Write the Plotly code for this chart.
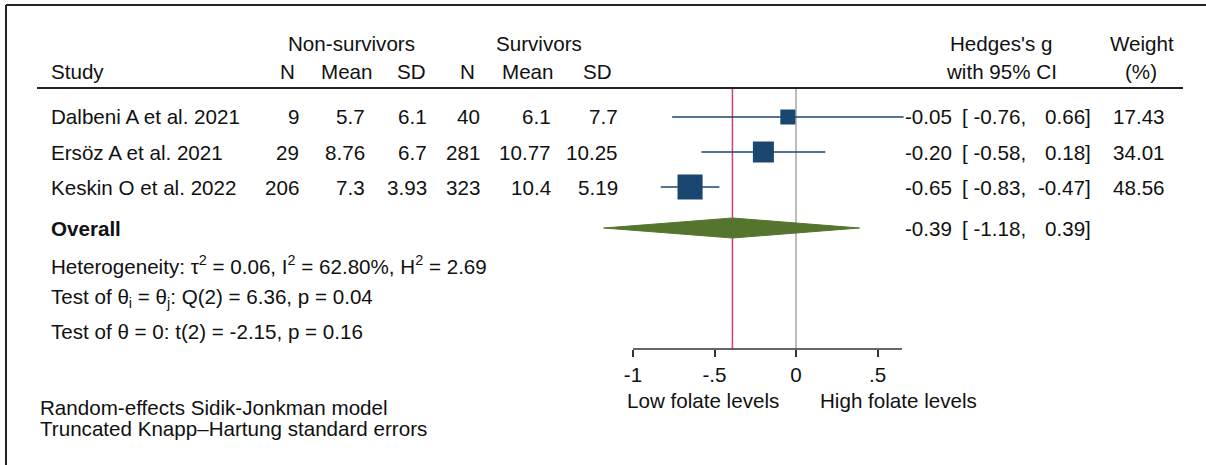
import math
import plotly.graph_objects as go

# ---------------- data ----------------
studies = ["Dalbeni A et al. 2021", "Ersöz A et al. 2021", "Keskin O et al. 2022"]
n_non = [9, 29, 206]
mean_non = [5.7, 8.76, 7.3]
sd_non = [6.1, 6.7, 3.93]
n_surv = [40, 281, 323]
mean_surv = [6.1, 10.77, 10.4]
sd_surv = [7.7, 10.25, 5.19]
hedges_g = [-0.05, -0.20, -0.65]
ci_lo = [-0.76, -0.58, -0.83]
ci_hi = [0.66, 0.18, -0.47]
weight = [17.43, 34.01, 48.56]
overall_g = -0.39
overall_lo = -1.18
overall_hi = 0.39
tick_vals = [-1, -0.5, 0, 0.5]
tick_text = ["-1", "-.5", "0", ".5"]
het_text = "Heterogeneity: τ<sup>2</sup> = 0.06, I<sup>2</sup> = 62.80%, H<sup>2</sup> = 2.69"
test1_text = "Test of θ<sub>i</sub> = θ<sub>j</sub>: Q(2) = 6.36, p = 0.04"
test2_text = "Test of θ = 0: t(2) = -2.15, p = 0.16"
foot1 = "Random-effects Sidik-Jonkman model"
foot2 = "Truncated Knapp–Hartung standard errors"
left_label = "Low folate levels"
right_label = "High folate levels"

# ---------------- layout helpers ----------------
W, H = 1206, 465
FONT = "Liberation Sans, Arial, sans-serif"
FS = 20.6
TXT = "#111111"
NAVY = "#1A476F"
GREEN = "#55752F"
RED = "#D8406C"
GRAY = "#A6A6A6"


def px(x):
    return x / W


def py(y):
    return 1 - y / H


ROW0_PX, ROW_H = 117, 35
TOP_PX, AXIS_PX = 88, 349
y_top = (TOP_PX - ROW0_PX) / ROW_H
y_bot = (AXIS_PX - ROW0_PX) / ROW_H


def row(pxv):
    return (pxv - ROW0_PX) / ROW_H


OVERALL_Y = row(228)
rows = list(range(len(studies)))

# x axis: value v -> pixel 796 + 163 v
X0_PX, X_SCALE = 796, 163
xr = [-1.3, 0.75]
xdom = [px(X0_PX + X_SCALE * xr[0]), px(X0_PX + X_SCALE * xr[1])]

fig = go.Figure()

# CI lines
for i in rows:
    fig.add_trace(go.Scatter(x=[ci_lo[i], ci_hi[i]], y=[i, i], mode="lines",
                             line=dict(color=NAVY, width=1.6), hoverinfo="skip",
                             showlegend=False))
# squares
fig.add_trace(go.Scatter(x=hedges_g, y=rows, mode="markers",
                         marker=dict(symbol="square", color=NAVY, opacity=1,
                                     size=[3.6 * math.sqrt(w) for w in weight],
                                     line=dict(width=0)),
                         hoverinfo="skip", showlegend=False))
# diamond
dh = 10 / ROW_H
fig.add_trace(go.Scatter(x=[overall_lo, overall_g, overall_hi, overall_g, overall_lo],
                         y=[OVERALL_Y, OVERALL_Y - dh, OVERALL_Y, OVERALL_Y + dh, OVERALL_Y],
                         mode="lines", fill="toself", fillcolor=GREEN,
                         line=dict(color=GREEN, width=1), hoverinfo="skip",
                         showlegend=False))

shapes = [
    # border
    dict(type="line", xref="paper", yref="paper", x0=px(6), x1=1, y0=py(5), y1=py(5),
         line=dict(color="#222", width=2)),
    dict(type="line", xref="paper", yref="paper", x0=px(6), x1=px(6), y0=py(5), y1=0,
         line=dict(color="#222", width=2)),
    # header underline
    dict(type="line", xref="paper", yref="paper", x0=px(37), x1=px(1183), y0=py(88), y1=py(88),
         line=dict(color="#222", width=2)),
    # reference lines
    dict(type="line", xref="x", yref="paper", x0=0, x1=0, y0=py(AXIS_PX), y1=py(TOP_PX),
         line=dict(color=GRAY, width=1.5), layer="below"),
    dict(type="line", xref="x", yref="paper", x0=overall_g, x1=overall_g, y0=py(AXIS_PX), y1=py(TOP_PX),
         line=dict(color=RED, width=1.5), layer="below"),
    # axis line
    dict(type="line", xref="x", yref="paper", x0=tick_vals[0], x1=0.65, y0=py(AXIS_PX), y1=py(AXIS_PX),
         line=dict(color="#333", width=1.5)),
]

ann = []


def add(text, x, y, xanchor="left", yref="y", bold=False):
    ann.append(dict(text=("<b>%s</b>" % text) if bold else text, x=px(x), y=y,
                    xref="paper", yref=yref, xanchor=xanchor, yanchor="middle",
                    showarrow=False, font=dict(family=FONT, size=FS, color=TXT)))


# headers
add("Non-survivors", 351, py(44), "center", "paper")
add("Survivors", 539, py(44), "center", "paper")
add("Hedges's g", 1001, py(44), "center", "paper")
add("Weight", 1142, py(44), "center", "paper")
add("Study", 49, py(72), "left", "paper")
for t, xr_ in zip(["N", "Mean", "SD", "N", "Mean", "SD"], [297, 375, 428, 477, 556, 614]):
    add(t, xr_, py(72), "right", "paper")
add("with 95% CI", 1001, py(72), "center", "paper")
add("(%)", 1141, py(72), "center", "paper")

# study rows
cols = [n_non, mean_non, sd_non, n_surv, mean_surv, sd_surv]
col_right = [301, 367, 429, 482, 553, 620]
for i in rows:
    add(studies[i], 49, i)
    for c, xr_ in zip(cols, col_right):
        add(str(c[i]), xr_, i, "right")
    add("%.2f" % hedges_g[i], 954, i, "right")
    add("[ %.2f," % ci_lo[i], 1028, i, "right")
    add("%.2f]" % ci_hi[i], 1093, i, "right")
    add("%.2f" % weight[i], 1167, i, "right")

# overall
add("Overall", 49, OVERALL_Y, bold=True)
add("%.2f" % overall_g, 954, OVERALL_Y, "right")
add("[ %.2f," % overall_lo, 1028, OVERALL_Y, "right")
add("%.2f]" % overall_hi, 1093, OVERALL_Y, "right")

add(het_text, 49, row(265))
add(test1_text, 49, row(298))
add(test2_text, 49, row(331))

add(left_label, 625, py(400), "left", "paper")
add(right_label, 818, py(400), "left", "paper")
add(foot1, 38, py(407), "left", "paper")
add(foot2, 38, py(428), "left", "paper")

fig.update_layout(
    width=W, height=H, margin=dict(l=0, r=0, t=0, b=0),
    paper_bgcolor="white", plot_bgcolor="rgba(0,0,0,0)",
    showlegend=False, shapes=shapes, annotations=ann,
    font=dict(family=FONT, size=FS, color=TXT),
    xaxis=dict(domain=xdom, range=xr, showgrid=False, zeroline=False, showline=False,
               ticks="outside", ticklen=7, tickwidth=1.5, tickcolor="#333",
               tickvals=tick_vals, ticktext=tick_text,
               tickfont=dict(family=FONT, size=FS, color=TXT), fixedrange=True),
    yaxis=dict(domain=[py(AXIS_PX), py(TOP_PX)], range=[y_bot, y_top], visible=False,
               fixedrange=True),
)

fig.write_html("out.html", config={"displayModeBar": False},
               post_script="document.body.style.margin='0';document.body.style.padding='0';")
